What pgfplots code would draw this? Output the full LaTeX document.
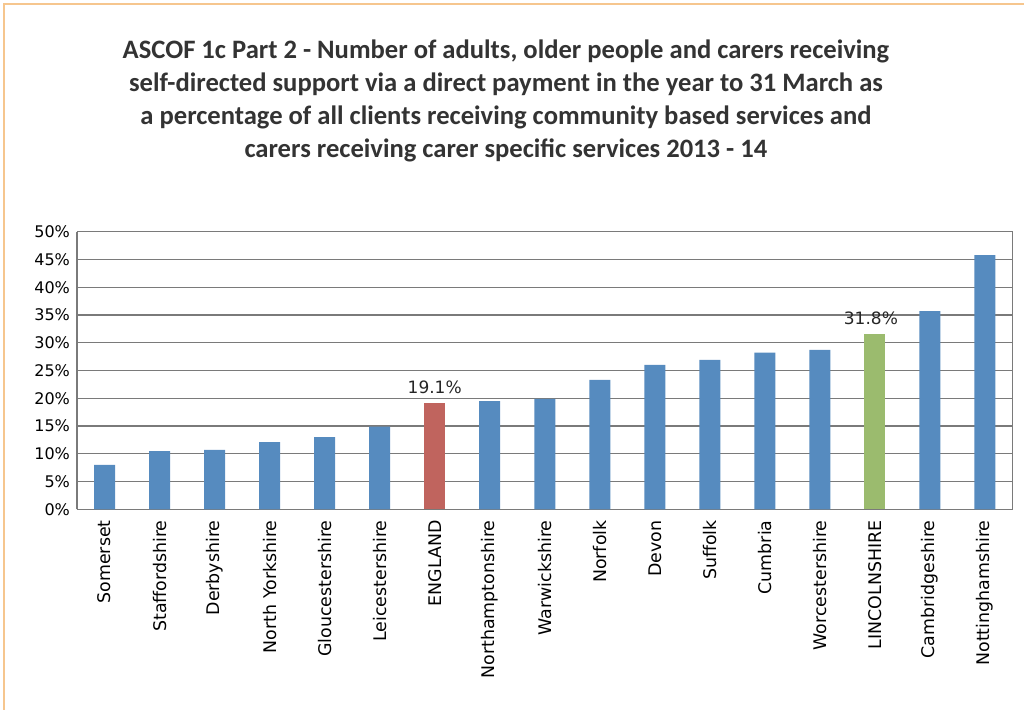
\documentclass[border=0pt]{standalone}
\usepackage{pgfplots}
\pgfplotsset{compat=1.18}
\usepackage{fontspec}
\setmainfont{DejaVu Sans}
\newfontfamily\titlefont{Carlito}
\definecolor{barblue}{HTML}{568BBF}
\definecolor{barred}{HTML}{C0645E}
\definecolor{bargreen}{HTML}{9BBB6E}
\definecolor{gridgray}{HTML}{7A7A7A}
\definecolor{frameorange}{HTML}{F6C68E}
\begin{document}
\begin{tikzpicture}[x=1pt,y=1pt]
\path[use as bounding box] (0,0) rectangle (512,354.5);
\draw[frameorange, line width=1.3pt] (2,-10) -- (2,352.5) -- (520,352.5);
\node[font=\titlefont\bfseries\fontsize{13.3}{16.4}\selectfont, text=black!80, align=center]
  at (253,304) {ASCOF 1c Part 2 - Number of adults, older people and carers receiving\\
  self-directed support via a direct payment in the year to 31 March as\\
  a percentage of all clients receiving community based services and\\
  carers receiving carer specific services 2013 - 14};
\begin{axis}[
    at={(38.5pt,99.85pt)}, anchor=south west,
    scale only axis,
    width=467.75pt, height=138.8pt,
    ybar, bar width=10.5pt, bar shift=0pt,
    xmin=-0.5, xmax=16.5,
    ymin=0, ymax=50,
    ytick={0,5,...,50},
    yticklabel={\pgfmathprintnumber{\tick}\%},
    xtick={0,...,16},
    xticklabels={Somerset,Staffordshire,Derbyshire,North Yorkshire,Gloucestershire,Leicestershire,ENGLAND,Northamptonshire,Warwickshire,Norfolk,Devon,Suffolk,Cumbria,Worcestershire,LINCOLNSHIRE,Cambridgeshire,Nottinghamshire},
    xticklabel style={rotate=90, anchor=east, font=\fontsize{8.7}{10}\selectfont, xshift=-2pt},
    yticklabel style={font=\fontsize{8}{9}\selectfont},
    /pgf/number format/assume math mode=true,
    major tick length=0pt,
    ymajorgrids, grid style={gridgray, line width=0.7pt},
    axis line style={gridgray, line width=0.7pt},
    axis x line*=bottom,
    axis y line*=left,
    clip=false,
]
\addplot[draw=none, fill=barblue] coordinates {
  (0,8.0) (1,10.5) (2,10.7) (3,12.1) (4,13.0) (5,14.9)
  (7,19.5) (8,19.9) (9,23.3) (10,26.0) (11,26.9) (12,28.2) (13,28.7)
  (15,35.7) (16,45.8)
};
\addplot[draw=none, fill=barred,
  nodes near coords={19.1\%},
  every node near coord/.append style={font=\fontsize{8.5}{10}\selectfont, text=black!85, yshift=1pt}]
  coordinates {(6,19.1)};
\addplot[draw=none, fill=bargreen,
  nodes near coords={31.8\%},
  every node near coord/.append style={font=\fontsize{8.5}{10}\selectfont, text=black!85, yshift=1pt, xshift=-2pt}]
  coordinates {(14,31.6)};
\draw[gridgray, line width=0.7pt] (rel axis cs:1,0) -- (rel axis cs:1,1);
\end{axis}
\end{tikzpicture}
\end{document}
